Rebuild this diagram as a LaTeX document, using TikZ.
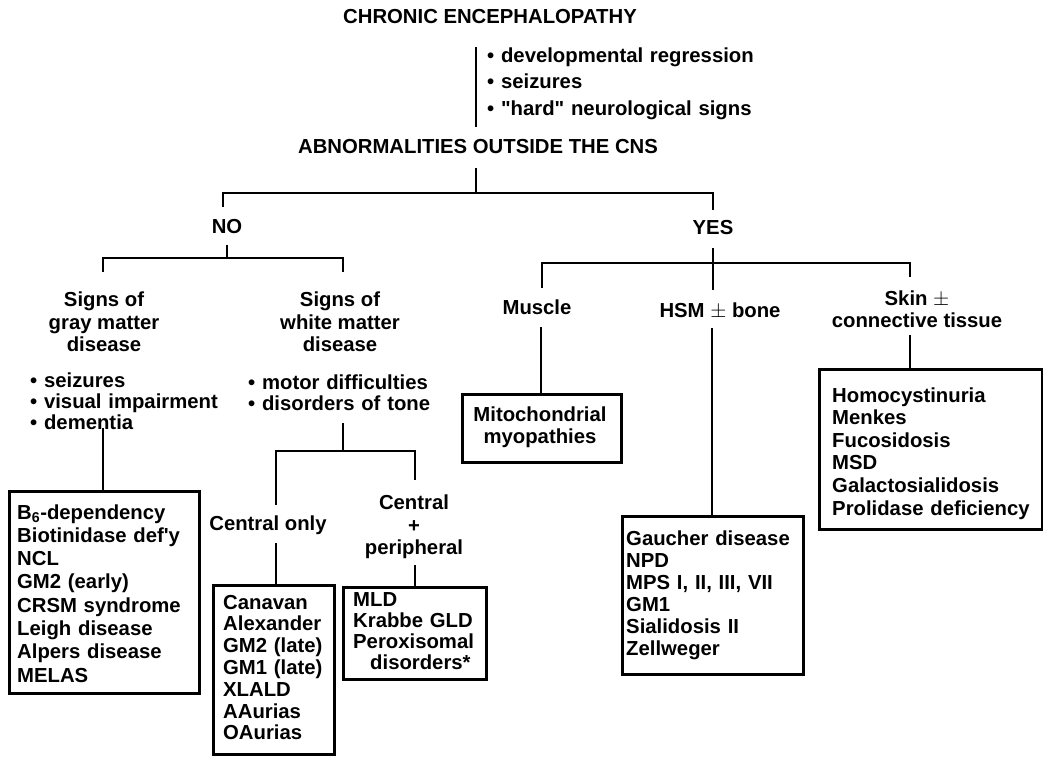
\documentclass[tikz,border=0pt]{standalone}
\usepackage{fontspec}
\setmainfont{Liberation Sans}
\begin{document}
\begin{tikzpicture}[x=1pt,y=-1pt,
  every node/.style={font=\fontsize{20.3}{22.5}\selectfont\bfseries, inner sep=0pt},
  ln/.style={line width=2.7pt},
  boxst/.style={draw, line width=2.7pt, inner sep=0pt, anchor=north west},
  lst/.style={anchor=base west, align=left, text width=#1},
 ]
\useasboundingbox (0,0) rectangle (1043,756);

% ---------- top ----------
\node (chron) at (490,17) {CHRONIC ENCEPHALOPATHY};
\node[lst=320pt, font=\fontsize{20.3}{26.5}\selectfont\bfseries] (sym) at (487,62)
  {• developmental regression\\• seizures\\• \textquotedbl hard\textquotedbl{} neurological signs};
\node (abn) at (478,147) {ABNORMALITIES OUTSIDE THE CNS};
\coordinate (t1) at (476,47); \coordinate (t2) at (476,127);
\draw[ln] (t1) -- (t2);

\coordinate (a1) at (476,168); \coordinate (a2) at (476,193);
\coordinate (aL) at (223,193); \coordinate (aR) at (713,193);
\coordinate (aLd) at (223,207); \coordinate (aRd) at (713,210);
\draw[ln] (a1) -- (a2);
\draw[ln] (aLd) -- (aL) -- (aR) -- (aRd);

\node (no) at (227,227) {NO};
\node (yes) at (713,228) {YES};

% ---------- NO branch ----------
\coordinate (n1) at (227,245); \coordinate (n2) at (227,258);
\coordinate (nL) at (103,258); \coordinate (nR) at (343,258);
\coordinate (nLd) at (103,272); \coordinate (nRd) at (343,272);
\draw[ln] (n1) -- (n2);
\draw[ln] (nLd) -- (nL) -- (nR) -- (nRd);

\node[align=center] (gray) at (104,322) {Signs of\\gray matter\\disease};
\node[align=center] (white) at (340,322) {Signs of\\white matter\\disease};

\node[lst=200pt, font=\fontsize{20.3}{21}\selectfont\bfseries] (gsym) at (30,387)
  {• seizures\\• visual impairment\\• dementia};
\node[lst=220pt, font=\fontsize{20.3}{21}\selectfont\bfseries] (wsym) at (248,389)
  {• motor difficulties\\• disorders of tone};

% gray matter box
\node[boxst, minimum width=190pt, minimum height=202pt] (gbox) at (8,490) {};
\coordinate (g1) at (103,428);
\draw[ln] (g1) -- (g1 |- gbox.north);
\node[lst=185pt, font=\fontsize{20.3}{23.3}\selectfont\bfseries] (glist) at (17,519)
  {B\textsubscript{6}-dependency\\Biotinidase def\textquotesingle y\\NCL\\GM2 (early)\\CRSM syndrome\\Leigh disease\\Alpers disease\\MELAS};

% white matter split
\coordinate (w1) at (343,423); \coordinate (w2) at (343,451);
\coordinate (wL) at (276,451); \coordinate (wR) at (415,451);
\coordinate (wLd) at (276,505); \coordinate (wRd) at (415,480);
\draw[ln] (w1) -- (w2);
\draw[ln] (wLd) -- (wL) -- (wR) -- (wRd);

\node (conly) at (268,525) {Central only};
\node[align=center] (cperi) at (414,527) {Central\\+\\peripheral};

\node[boxst, minimum width=121pt, minimum height=169pt] (cbox) at (212,584) {};
\coordinate (c1) at (276,543);
\draw[ln] (c1) -- (c1 |- cbox.north);
\node[lst=115pt, font=\fontsize{20.3}{21.8}\selectfont\bfseries] (clist) at (223,609)
  {Canavan\\Alexander\\GM2 (late)\\GM1 (late)\\XLALD\\AAurias\\OAurias};

\node[boxst, minimum width=143pt, minimum height=92pt] (pbox) at (342,586) {};
\coordinate (p1) at (415,565);
\draw[ln] (p1) -- (p1 |- pbox.north);
\node[lst=135pt, font=\fontsize{20.3}{21.3}\selectfont\bfseries] (plist) at (353,606)
  {MLD\\Krabbe GLD\\Peroxisomal\\\hspace*{17pt}disorders*};

% ---------- YES branch ----------
\coordinate (y1) at (713,248); \coordinate (y2) at (713,263);
\coordinate (yL) at (542,263); \coordinate (yR) at (910,263);
\coordinate (yLd) at (542,288); \coordinate (yMd) at (713,290);
\coordinate (yRd) at (910,277);
\draw[ln] (y1) -- (y2);
\draw[ln] (yLd) -- (yL) -- (yR) -- (yRd);
\draw[ln] (y2) -- (yMd);

\node (muscle) at (537,307) {Muscle};
\node (hsm) at (720,311) {HSM $\pm$ bone};
\node[align=center] (skin) at (917,309) {Skin $\pm$\\connective tissue};

\node[boxst, minimum width=159pt, minimum height=68pt] (mbox) at (461,393) {};
\coordinate (m1) at (541,327);
\draw[ln] (m1) -- (m1 |- mbox.north);
\node[align=center] (mito) at (540,427) {Mitochondrial\\myopathies};

\node[boxst, minimum width=181pt, minimum height=158pt] (hbox) at (621,515) {};
\coordinate (h1) at (712,328);
\draw[ln] (h1) -- (h1 |- hbox.north);
\node[lst=175pt, font=\fontsize{20.3}{22}\selectfont\bfseries] (hlist) at (626,545)
  {Gaucher disease\\NPD\\MPS I, II, III, VII\\GM1\\Sialidosis II\\Zellweger};

\node[boxst, minimum width=223pt, minimum height=160pt] (sbox) at (818,368) {};
\coordinate (s1) at (910,335);
\draw[ln] (s1) -- (s1 |- sbox.north);
\node[lst=210pt, font=\fontsize{20.3}{22.6}\selectfont\bfseries] (slist) at (832,402)
  {Homocystinuria\\Menkes\\Fucosidosis\\MSD\\Galactosialidosis\\Prolidase deficiency};
\end{tikzpicture}
\end{document}
